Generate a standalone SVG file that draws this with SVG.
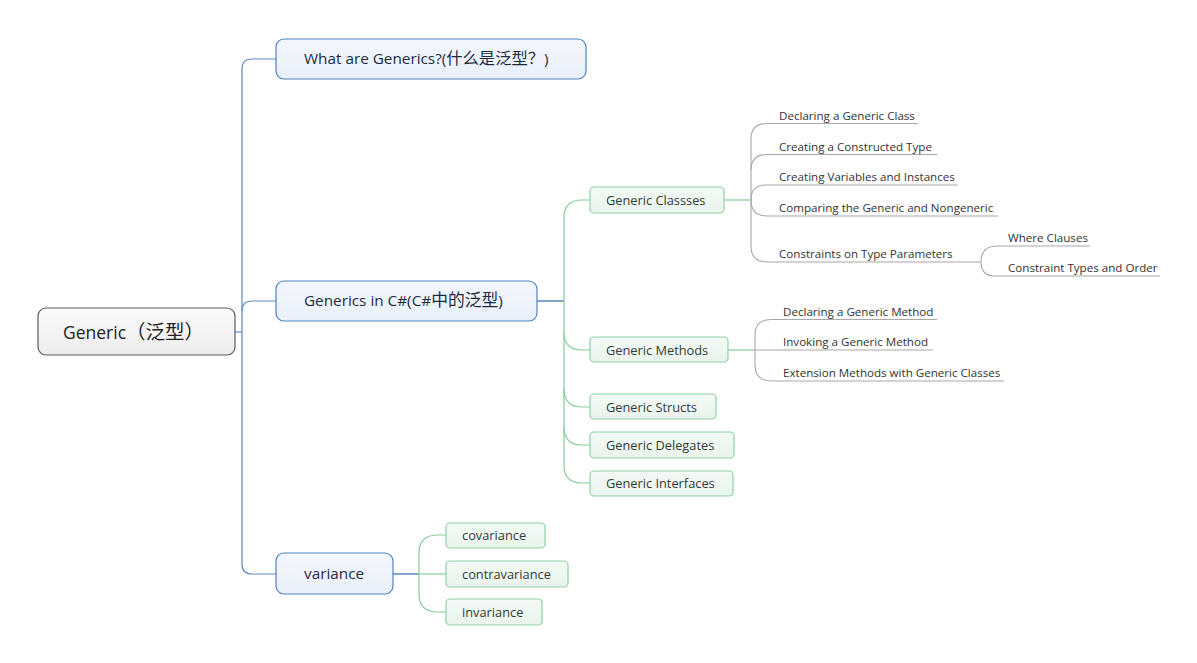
<svg xmlns="http://www.w3.org/2000/svg" width="1197" height="663" viewBox="0 0 1197 663">
<defs>
<linearGradient id="gRoot" x1="0" y1="0" x2="0" y2="1"><stop offset="0" stop-color="#fbfbfb"/><stop offset="1" stop-color="#ececec"/></linearGradient>
<linearGradient id="gBlue" x1="0" y1="0" x2="0" y2="1"><stop offset="0" stop-color="#f3f7fd"/><stop offset="1" stop-color="#e9f0f9"/></linearGradient>
<linearGradient id="gGreen" x1="0" y1="0" x2="0" y2="1"><stop offset="0" stop-color="#f3faf5"/><stop offset="1" stop-color="#e8f4ec"/></linearGradient>
</defs>
<style>
text{font-family:"Open Sans","Noto Sans","Noto Sans CJK SC",sans-serif;}
.cjk{font-family:"Noto Sans CJK SC",sans-serif;}
.root{fill:url(#gRoot);stroke:#5a5a5a;stroke-width:1.2;}
.l1{fill:url(#gBlue);stroke:#4f81c2;stroke-width:1.2;}
.l2{fill:url(#gGreen);stroke:#8fd1a2;stroke-width:1.2;}
.troot{font-size:17.5px;fill:#222;}
.t1{font-size:15.3px;fill:#1d2b40;}
.t2{font-size:12.8px;fill:#333a36;}
.t3{font-size:11.6px;fill:#333;}
.cb{fill:none;stroke:#5b8bc6;stroke-width:1.2;}
.cbd{fill:none;stroke:#33649f;stroke-width:1.2;}
.cg{fill:none;stroke:#86cc9a;stroke-width:1.2;}
.cy{fill:none;stroke:#a8a8a8;stroke-width:1.1;}
</style>
<g id="connectors">
<path class="cb" d="M235,332 H242"/>
<path class="cb" d="M276,59 H252 Q242,59 242,69 V564 Q242,574 252,574 H276"/>
<path class="cb" d="M242,311 Q242,301 252,301 H276"/>
<path class="cbd" d="M537,301 H564"/>
<path class="cbd" d="M393,574 H419"/>
<path class="cg" d="M590,200 H582 Q564,200 564,218 V465 Q564,483 582,483 H590"/>
<path class="cg" d="M564,332 Q564,350 582,350 H590"/>
<path class="cg" d="M564,389 Q564,407 582,407 H590"/>
<path class="cg" d="M564,427 Q564,445 582,445 H590"/>
<path class="cg" d="M446,535 H438 Q419,535 419,553 V594 Q419,612 438,612 H446"/>
<path class="cg" d="M419,574 H446"/>
<path class="cg" d="M724,200 H751"/>
<path class="cy" d="M751,200 V139 Q751,123.5 767,123.5 H918"/>
<path class="cy" d="M751,170 Q751,154.5 767,154.5 H937"/>
<path class="cy" d="M751,200 Q751,185 766,185 H958"/>
<path class="cy" d="M751,200 Q751,216 767,216 H998"/>
<path class="cy" d="M751,200 V246 Q751,262 767,262 H981"/>
<path class="cy" d="M981,262 Q981,246 997,246 H1090"/>
<path class="cy" d="M981,262 Q981,276 995,276 H1160"/>
<path class="cg" d="M728,350 H755"/>
<path class="cy" d="M755,350 V335 Q755,319.5 771,319.5 H937"/>
<path class="cy" d="M755,350 H933"/>
<path class="cy" d="M755,350 V365 Q755,381 771,381 H1004"/>
</g>
<g id="root"><rect class="root" x="38" y="308" width="197" height="47" rx="8"/><text class="troot" x="63" y="339">Generic<tspan class="cjk" font-size="19.5">（泛型）</tspan></text></g>
<g id="what"><rect class="l1" x="276" y="39" width="310" height="40" rx="8"/><text class="t1" x="304" y="64">What are Generics?(<tspan class="cjk" font-size="16.3">什么是泛型？</tspan>)</text></g>
<g id="csharp"><rect class="l1" x="276" y="281" width="261" height="40" rx="8"/><text class="t1" x="304" y="306">Generics in C#(C#<tspan class="cjk" font-size="16.8">中的泛型</tspan>)</text></g>
<g id="variance"><rect class="l1" x="276" y="553" width="117" height="41" rx="8"/><text class="t1" x="304" y="579">variance</text></g>
<g id="classes"><rect class="l2" x="590" y="187" width="134" height="26" rx="4"/><text class="t2" x="606" y="204.5">Generic Classses</text></g>
<g id="methods"><rect class="l2" x="590" y="337" width="138" height="25" rx="4"/><text class="t2" x="606" y="354.5">Generic Methods</text></g>
<g id="structs"><rect class="l2" x="590" y="394" width="126" height="25" rx="4"/><text class="t2" x="606" y="411.5">Generic Structs</text></g>
<g id="delegates"><rect class="l2" x="590" y="432" width="144" height="26" rx="4"/><text class="t2" x="606" y="449.5">Generic Delegates</text></g>
<g id="interfaces"><rect class="l2" x="590" y="471" width="143" height="25" rx="4"/><text class="t2" x="606" y="488">Generic Interfaces</text></g>
<g id="covariance"><rect class="l2" x="446" y="523" width="99" height="25" rx="4"/><text class="t2" x="462" y="540">covariance</text></g>
<g id="contravariance"><rect class="l2" x="446" y="561" width="122" height="26" rx="4"/><text class="t2" x="462" y="578.5">contravariance</text></g>
<g id="invariance"><rect class="l2" x="446" y="599" width="96" height="26" rx="4"/><text class="t2" x="462" y="616.5">invariance</text></g>
<g id="declclass"><text class="t3" x="779" y="119.5">Declaring a Generic Class</text></g>
<g id="constructed"><text class="t3" x="779" y="150.5">Creating a Constructed Type</text></g>
<g id="variables"><text class="t3" x="779" y="181">Creating Variables and Instances</text></g>
<g id="comparing"><text class="t3" x="779" y="212">Comparing the Generic and Nongeneric</text></g>
<g id="constraints"><text class="t3" x="779" y="258">Constraints on Type Parameters</text></g>
<g id="where"><text class="t3" x="1008" y="242">Where Clauses</text></g>
<g id="ctypes"><text class="t3" x="1008" y="272">Constraint Types and Order</text></g>
<g id="declmethod"><text class="t3" x="783" y="315.5">Declaring a Generic Method</text></g>
<g id="invoking"><text class="t3" x="783" y="346">Invoking a Generic Method</text></g>
<g id="extension"><text class="t3" x="783" y="377">Extension Methods with Generic Classes</text></g>
</svg>
